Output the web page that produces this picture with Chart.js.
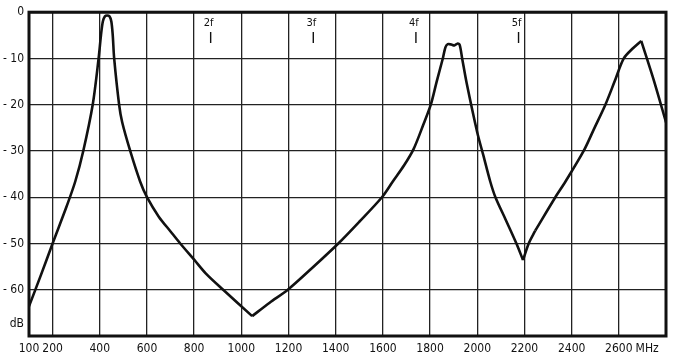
<!DOCTYPE html>
<html>
<head>
<meta charset="utf-8">
<script src="https://cdn.jsdelivr.net/npm/chart.js@4/dist/chart.umd.min.js"></script>
<style>
  html, body { margin: 0; padding: 0; background: #fff; }
  #wrap { width: 677px; height: 359px; position: relative; }
</style>
</head>
<body>
<div id="wrap"><canvas id="chart"></canvas></div>
<script>
  // Attenuation curve (frequency in MHz, level in dB)
  const freqMHz = [100, 150, 200, 260, 296, 330, 370, 395, 405, 413,
                   422, 431, 441, 449, 455, 461, 482, 495, 529, 571,
                   600, 650, 700, 741, 800, 850, 923, 1046,
                   1120, 1197, 1300, 1411, 1500, 1596, 1642, 1690, 1730, 1770,
                   1803, 1828, 1854, 1865, 1875, 1890, 1903, 1915, 1925, 1936,
                   1955, 2000, 2025, 2055, 2077, 2120, 2166, 2194,
                   2218, 2246,
                   2331, 2374, 2451, 2497, 2543, 2582, 2621, 2660, 2695,
                   2750, 2800];
  const levelDb = [-63.6, -56.9, -50, -41.9, -36.6, -30, -20, -10, -5, -2,
                   -0.9, -0.7, -0.9, -2, -5, -10, -20, -23.8, -30, -36.6,
                   -40, -44.2, -47.4, -50, -53.5, -56.5, -60, -65.7,
                   -62.8, -60, -55.3, -50, -45.3, -40, -36.6, -33.1, -29.6, -24.5,
                   -20, -15, -10, -7.6, -6.9, -7.0, -7.2, -6.8, -7.0, -10,
                   -15.3, -26, -30.8, -36.6, -40, -44.8, -50, -53.6,
                   -50, -47.2,
                   -40, -36.6, -30, -25, -20, -15, -10, -7.8, -6.2,
                   -15, -23.8];
  // frequencies where the curve has a sharp corner (smooth pieces meet there)
  const cornerFreqs = [1046, 2194, 2246, 2695];

  const xTicks = [100, 200, 400, 600, 800, 1000, 1200, 1400, 1600, 1800, 2000, 2200, 2400, 2600, 2720, 2800];
  const xTickLabels = ['100', '200', '400', '600', '800', '1000', '1200', '1400', '1600', '1800', '2000', '2200', '2400', '2600', 'MHz', ''];
  const yTicks = [0, -10, -20, -30, -40, -50, -60, -67.3, -70];
  const yTickLabels = ['0', '- 10', '- 20', '- 30', '- 40', '- 50', '- 60', 'dB', ''];

  // harmonic markers of the 435 MHz fundamental
  const harmonicLabels = ['2f', '3f', '4f', '5f'];
  const harmonicFreqs = [870, 1305, 1740, 2175];

  const INK = '#111';
  const FONT = "'DejaVu Sans Condensed', 'Liberation Sans Narrow', sans-serif";

  // split the curve at the corners so each piece is smoothed on its own
  const cuts = [0, ...cornerFreqs.map((f) => freqMHz.indexOf(f)), freqMHz.length - 1];
  const datasets = [];
  for (let k = 0; k < cuts.length - 1; k++) {
    const pts = [];
    for (let i = cuts[k]; i <= cuts[k + 1]; i++) pts.push({ x: freqMHz[i], y: levelDb[i] });
    datasets.push({
      data: pts,
      borderColor: INK,
      borderWidth: 2.6,
      pointRadius: 0,
      tension: 0.3,
      fill: false,
    });
  }

  const framePlugin = {
    id: 'frame',
    afterDatasetsDraw(chart) {
      const { ctx, chartArea: a, scales } = chart;
      ctx.save();
      ctx.strokeStyle = INK;
      ctx.lineWidth = 3;
      ctx.strokeRect(a.left, a.top, a.right - a.left, a.bottom - a.top);

      ctx.fillStyle = INK;
      ctx.font = '11px ' + FONT;
      ctx.textAlign = 'center';
      ctx.textBaseline = 'middle';
      ctx.lineWidth = 1.4;
      harmonicFreqs.forEach((f, i) => {
        const x = scales.x.getPixelForValue(f);
        ctx.fillText(harmonicLabels[i], x - 2, 23);
        ctx.beginPath();
        ctx.moveTo(x, 32);
        ctx.lineTo(x, 43);
        ctx.stroke();
      });
      ctx.restore();
    }
  };

  new Chart(document.getElementById('chart'), {
    type: 'line',
    data: { datasets },
    options: {
      responsive: true,
      maintainAspectRatio: false,
      animation: false,
      layout: { padding: { top: 8, right: 11, left: 0, bottom: 0 } },
      plugins: { legend: { display: false }, tooltip: { enabled: false } },
      scales: {
        x: {
          type: 'linear',
          min: 100,
          max: 2800,
          afterBuildTicks: (s) => { s.ticks = xTicks.map((v) => ({ value: v })); },
          afterFit: (s) => { s.height = 23; },
          grid: {
            color: (c) => (c.tick && c.tick.value === 2720 ? 'rgba(0,0,0,0)' : '#222'),
            lineWidth: 1.3,
            drawTicks: false,
          },
          border: { display: false },
          ticks: {
            autoSkip: false,
            maxRotation: 0,
            padding: 6,
            color: INK,
            font: { family: FONT, size: 12 },
            callback: (v) => xTickLabels[xTicks.indexOf(v)],
          },
        },
        y: {
          min: -70,
          max: 0,
          afterBuildTicks: (s) => { s.ticks = yTicks.map((v) => ({ value: v })); },
          afterFit: (s) => { s.width = 29; },
          grid: {
            color: (c) => (c.tick && c.tick.value === -67.3 ? 'rgba(0,0,0,0)' : '#222'),
            lineWidth: 1.3,
            drawTicks: false,
          },
          border: { display: false },
          ticks: {
            autoSkip: false,
            padding: 5,
            color: INK,
            font: { family: FONT, size: 12 },
            callback: (v) => yTickLabels[yTicks.indexOf(v)],
          },
        },
      },
    },
    plugins: [framePlugin],
  });
</script>
</body>
</html>
